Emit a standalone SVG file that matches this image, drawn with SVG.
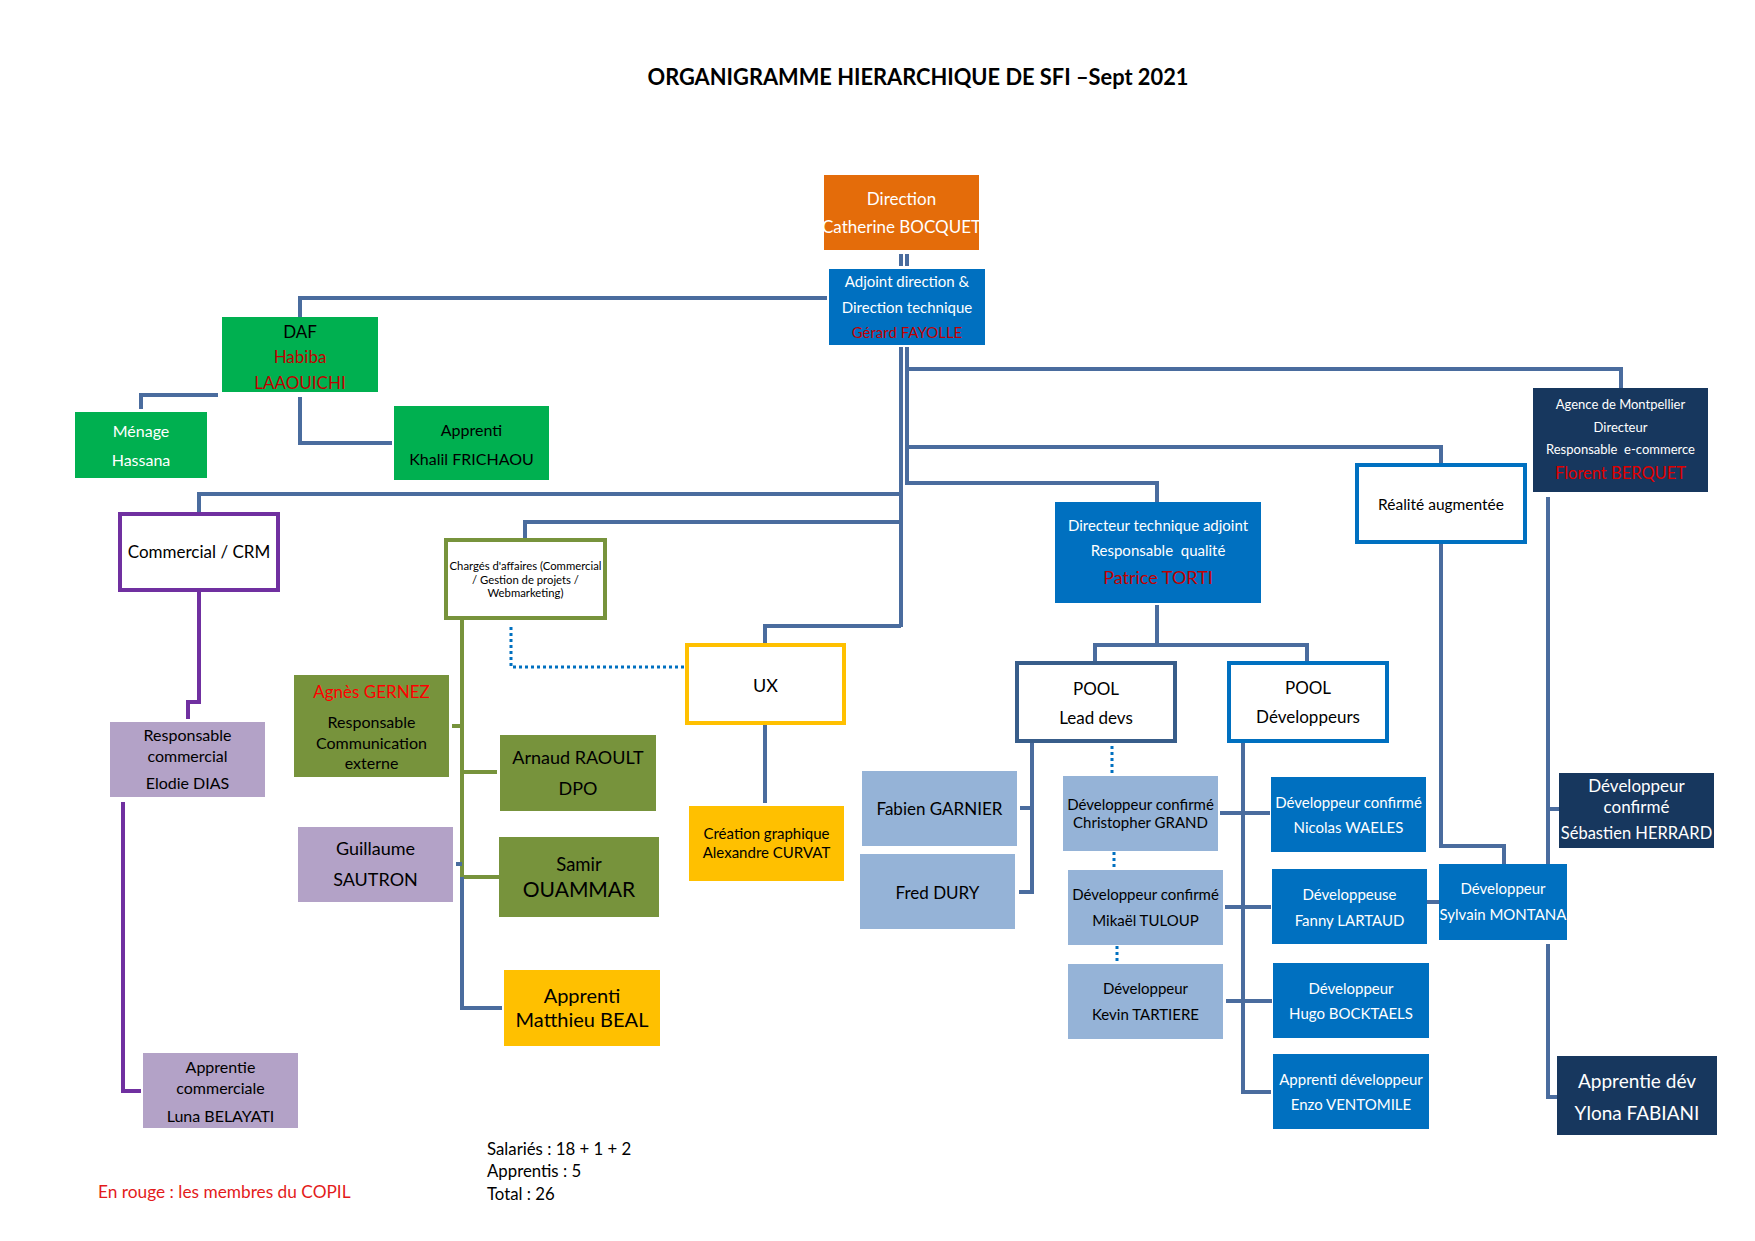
<svg xmlns="http://www.w3.org/2000/svg" width="1755" height="1241" viewBox="0 0 1755 1241">
<style>
text { font-family: Lato, "Liberation Sans", sans-serif; text-anchor: middle; dominant-baseline: central; fill: #000; }
.w { fill: #fff; }
.r { fill: #C00000; }
.rb { fill: #FF0000; }
.c { fill: none; stroke: #4A6C9E; stroke-width: 4; }
.g { fill: none; stroke: #77933C; stroke-width: 4; }
.p { fill: none; stroke: #7030A0; stroke-width: 4; }
.d { fill: none; stroke: #0070C0; stroke-width: 3; stroke-dasharray: 3 3; }
.orange { fill: #E46C0A; }
.blue { fill: #0070C0; }
.green { fill: #00B050; }
.olive { fill: #77933C; }
.lav { fill: #B3A2C7; }
.gold { fill: #FFC000; }
.lb { fill: #95B3D7; }
.navy { fill: #17375E; }
.ob { fill: #fff; stroke-width: 4; }
</style>
<rect width="1755" height="1241" fill="#fff"/>
<text x="918" y="76" font-weight="bold" font-size="23" textLength="541" lengthAdjust="spacingAndGlyphs">ORGANIGRAMME HIERARCHIQUE DE SFI –Sept 2021</text>

<g id="connectors">
  <line class="c" x1="901" y1="254" x2="901" y2="266"/>
  <line class="c" x1="907" y1="254" x2="907" y2="266"/>
  <path class="c" d="M901,347 V627"/>
  <path class="c" d="M907,347 V485"/>
  <path class="c" d="M827,298 H300 V317"/>
  <path class="c" d="M907,369 H1621 V388"/>
  <path class="c" d="M907,447 H1441 V463"/>
  <path class="c" d="M907,483 H1157 V502"/>
  <path class="c" d="M901,494 H199 V512"/>
  <path class="c" d="M901,522 H525 V538"/>
  <path class="c" d="M901,626 H765 V643"/>
  <path class="c" d="M218,395 H141 V409"/>
  <path class="c" d="M300,397 V443 H392"/>
  <path class="p" d="M199,592 V702 H188 V719"/>
  <path class="p" d="M123,802 V1091 H141"/>
  <path class="g" d="M462,620 V877 H499"/>
  <path class="g" d="M462,772 H497"/>
  <path class="g" d="M452,726 H462"/>
  <path class="c" d="M462,877 V1008 H502"/>
  <path class="c" d="M456,864 H462"/>
  <path class="d" d="M511,627 V667 H684"/>
  <path class="c" d="M765,725 V803"/>
  <path class="c" d="M1157,605 V645"/>
  <path class="c" d="M1095,662 V645 H1307 V661"/>
  <path class="c" d="M1032,743 V892 H1019"/>
  <path class="c" d="M1020,808 H1032"/>
  <path class="d" d="M1112,746 V775"/>
  <path class="d" d="M1114,852 V870"/>
  <path class="d" d="M1117,946 V964"/>
  <path class="c" d="M1243,743 V1092 H1271"/>
  <path class="c" d="M1220,813 H1270"/>
  <path class="c" d="M1225,907 H1271"/>
  <path class="c" d="M1226,1001 H1272"/>
  <path class="c" d="M1427,902 H1439"/>
  <path class="c" d="M1441,544 V846 H1504 V864"/>
  <path class="c" d="M1548,497 V864"/>
  <path class="c" d="M1548,809 H1559"/>
  <path class="c" d="M1548,944 V1097 H1557"/>
</g>

<g id="direction">
  <rect class="orange" x="824" y="175" width="155" height="75"/>
  <text class="w" x="901.5" y="198" font-size="17">Direction</text>
  <text class="w" x="901.5" y="226" font-size="17">Catherine BOCQUET</text>
</g>
<g id="adjoint">
  <rect class="blue" x="829" y="269" width="156" height="76"/>
  <text class="w" x="907" y="281" font-size="15">Adjoint direction &amp;</text>
  <text class="w" x="907" y="307" font-size="15">Direction technique</text>
  <text class="r" x="907" y="332" font-size="15">Gérard FAYOLLE</text>
</g>
<g id="daf">
  <rect class="green" x="222" y="317" width="156" height="75"/>
  <text x="300" y="331" font-size="17">DAF</text>
  <text class="r" x="300" y="356" font-size="17">Habiba</text>
  <text class="r" x="300" y="382" font-size="17">LAAOUICHI</text>
</g>
<g id="menage">
  <rect class="green" x="75" y="412" width="132" height="66"/>
  <text class="w" x="141" y="430" font-size="16">Ménage</text>
  <text class="w" x="141" y="459" font-size="16">Hassana</text>
</g>
<g id="apprenti-khalil">
  <rect class="green" x="394" y="406" width="155" height="74"/>
  <text x="471.5" y="429" font-size="16">Apprenti</text>
  <text x="471.5" y="458" font-size="16">Khalil FRICHAOU</text>
</g>
<g id="commercial">
  <rect class="ob" stroke="#7030A0" x="120" y="514" width="158" height="76"/>
  <text x="199" y="551" font-size="17">Commercial / CRM</text>
</g>
<g id="resp-commercial">
  <rect class="lav" x="110" y="722" width="155" height="75"/>
  <text x="187.5" y="734" font-size="16">Responsable</text>
  <text x="187.5" y="755" font-size="16">commercial</text>
  <text x="187.5" y="782" font-size="16">Elodie DIAS</text>
</g>
<g id="apprentie-commerciale">
  <rect class="lav" x="143" y="1053" width="155" height="75"/>
  <text x="220.5" y="1066" font-size="16">Apprentie</text>
  <text x="220.5" y="1087" font-size="16">commerciale</text>
  <text x="220.5" y="1115" font-size="16">Luna BELAYATI</text>
</g>
<g id="charges">
  <rect class="ob" stroke="#77933C" x="446" y="540" width="159" height="78"/>
  <text x="525.5" y="565" font-size="11.3">Chargés d'affaires (Commercial</text>
  <text x="525.5" y="579" font-size="11.3">/ Gestion de projets /</text>
  <text x="525.5" y="592" font-size="11.3">Webmarketing)</text>
</g>
<g id="agnes">
  <rect class="olive" x="294" y="675" width="155" height="102"/>
  <text class="rb" x="371.5" y="691" font-size="17">Agnès GERNEZ</text>
  <text x="371.5" y="721" font-size="16">Responsable</text>
  <text x="371.5" y="742" font-size="16">Communication</text>
  <text x="371.5" y="762" font-size="16">externe</text>
</g>
<g id="arnaud">
  <rect class="olive" x="500" y="735" width="156" height="76"/>
  <text x="578" y="757" font-size="18">Arnaud RAOULT</text>
  <text x="578" y="788" font-size="18">DPO</text>
</g>
<g id="guillaume">
  <rect class="lav" x="298" y="827" width="155" height="75"/>
  <text x="375.5" y="848" font-size="18">Guillaume</text>
  <text x="375.5" y="879" font-size="18">SAUTRON</text>
</g>
<g id="samir">
  <rect class="olive" x="499" y="837" width="160" height="80"/>
  <text x="579" y="864" font-size="18.5">Samir</text>
  <text x="579" y="888" font-size="21">OUAMMAR</text>
</g>
<g id="matthieu">
  <rect class="gold" x="504" y="970" width="156" height="76"/>
  <text x="582" y="995" font-size="20">Apprenti</text>
  <text x="582" y="1019" font-size="20">Matthieu BEAL</text>
</g>
<g id="ux">
  <rect class="ob" stroke="#FFC000" x="687" y="645" width="157" height="78"/>
  <text x="765.5" y="685" font-size="18">UX</text>
</g>
<g id="creation">
  <rect class="gold" x="689" y="806" width="155" height="75"/>
  <text x="766.5" y="833" font-size="15">Création graphique</text>
  <text x="766.5" y="852" font-size="15">Alexandre CURVAT</text>
</g>
<g id="dir-tech-adjoint">
  <rect class="blue" x="1055" y="502" width="206" height="101"/>
  <text class="w" x="1158" y="525" font-size="15">Directeur technique adjoint</text>
  <text class="w" x="1158" y="550" font-size="15" xml:space="preserve">Responsable  qualité</text>
  <text class="r" x="1158" y="577" font-size="18">Patrice TORTI</text>
</g>
<g id="pool-lead">
  <rect class="ob" stroke="#385D8A" x="1017" y="663" width="158" height="78"/>
  <text x="1096" y="688" font-size="17">POOL</text>
  <text x="1096" y="717" font-size="17">Lead devs</text>
</g>
<g id="pool-dev">
  <rect class="ob" stroke="#0070C0" x="1229" y="663" width="158" height="78"/>
  <text x="1308" y="687" font-size="17">POOL</text>
  <text x="1308" y="716" font-size="17">Développeurs</text>
</g>
<g id="fabien">
  <rect class="lb" x="862" y="771" width="155" height="75"/>
  <text x="939.5" y="808" font-size="17">Fabien GARNIER</text>
</g>
<g id="fred">
  <rect class="lb" x="860" y="854" width="155" height="75"/>
  <text x="937.5" y="892" font-size="17">Fred DURY</text>
</g>
<g id="christopher">
  <rect class="lb" x="1063" y="776" width="155" height="75"/>
  <text x="1140.5" y="804" font-size="15">Développeur confirmé</text>
  <text x="1140.5" y="822" font-size="15">Christopher GRAND</text>
</g>
<g id="mikael">
  <rect class="lb" x="1068" y="870" width="155" height="75"/>
  <text x="1145.5" y="894" font-size="15">Développeur confirmé</text>
  <text x="1145.5" y="920" font-size="15">Mikaël TULOUP</text>
</g>
<g id="kevin">
  <rect class="lb" x="1068" y="964" width="155" height="75"/>
  <text x="1145.5" y="988" font-size="15">Développeur</text>
  <text x="1145.5" y="1014" font-size="15">Kevin TARTIERE</text>
</g>
<g id="nicolas">
  <rect class="blue" x="1271" y="777" width="155" height="75"/>
  <text class="w" x="1348.5" y="802" font-size="15">Développeur confirmé</text>
  <text class="w" x="1348.5" y="827" font-size="15">Nicolas WAELES</text>
</g>
<g id="fanny">
  <rect class="blue" x="1272" y="869" width="155" height="75"/>
  <text class="w" x="1349.5" y="894" font-size="15">Développeuse</text>
  <text class="w" x="1349.5" y="920" font-size="15">Fanny LARTAUD</text>
</g>
<g id="hugo">
  <rect class="blue" x="1273" y="963" width="156" height="75"/>
  <text class="w" x="1351" y="988" font-size="15">Développeur</text>
  <text class="w" x="1351" y="1013" font-size="15">Hugo BOCKTAELS</text>
</g>
<g id="enzo">
  <rect class="blue" x="1273" y="1054" width="156" height="75"/>
  <text class="w" x="1351" y="1079" font-size="15">Apprenti développeur</text>
  <text class="w" x="1351" y="1104" font-size="15">Enzo VENTOMILE</text>
</g>
<g id="realite">
  <rect class="ob" stroke="#0070C0" x="1357" y="465" width="168" height="77"/>
  <text x="1441" y="504" font-size="15.5">Réalité augmentée</text>
</g>
<g id="berquet">
  <rect class="navy" x="1533" y="388" width="175" height="104"/>
  <text class="w" x="1620.5" y="404" font-size="13">Agence de Montpellier</text>
  <text class="w" x="1620.5" y="427" font-size="13">Directeur</text>
  <text class="w" x="1620.5" y="449" font-size="13" xml:space="preserve">Responsable  e-commerce</text>
  <text x="1620.5" y="473" font-size="16.5" style="fill:#E00000">Florent BERQUET</text>
</g>
<g id="sylvain">
  <rect class="blue" x="1439" y="864" width="128" height="76"/>
  <text class="w" x="1503" y="888" font-size="15">Développeur</text>
  <text class="w" x="1503" y="914" font-size="15">Sylvain MONTANA</text>
</g>
<g id="sebastien">
  <rect class="navy" x="1559" y="773" width="155" height="75"/>
  <text class="w" x="1636.5" y="785" font-size="17">Développeur</text>
  <text class="w" x="1636.5" y="806" font-size="17">confirmé</text>
  <text class="w" x="1636.5" y="833" font-size="16.5">Sébastien HERRARD</text>
</g>
<g id="ylona">
  <rect class="navy" x="1557" y="1056" width="160" height="79"/>
  <text class="w" x="1637" y="1080" font-size="19">Apprentie dév</text>
  <text class="w" x="1637" y="1112" font-size="19">Ylona FABIANI</text>
</g>

<g id="notes">
  <text x="98" y="1191" font-size="17.3" style="text-anchor:start;fill:#E31B1B">En rouge : les membres du COPIL</text>
  <text x="487" y="1148" font-size="16.8" style="text-anchor:start">Salariés : 18 + 1 + 2</text>
  <text x="487" y="1170" font-size="16.8" style="text-anchor:start">Apprentis : 5</text>
  <text x="487" y="1193" font-size="16.8" style="text-anchor:start">Total : 26</text>
</g>
</svg>
